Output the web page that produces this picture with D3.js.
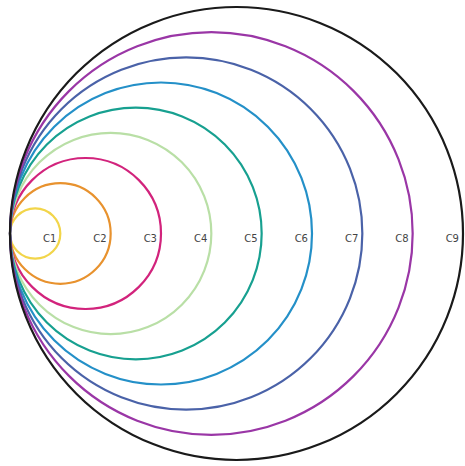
<!DOCTYPE html>
<html>
<head>
<meta charset="utf-8">
<script src="https://cdn.jsdelivr.net/npm/d3@7"></script>
<style>
html,body{margin:0;padding:0;background:#fff;}
svg{display:block;}
</style>
</head>
<body>
<svg id="chart" width="465" height="466"></svg>
<script>
const categories = ["C1","C2","C3","C4","C5","C6","C7","C8","C9"];
const diameters = [1,2,3,4,5,6,7,8,9];
const colors = ["#f2d54a","#e8922e","#d2237c","#b9dfa6","#17a090","#2490c8","#4a62a8","#9a36a6","#1a1a1a"];

const svg = d3.select("#chart");
const x = d3.scaleLinear().domain([0, 9]).range([10, 463]);
const cy = 233.5;

const g = svg.append("g");
categories.forEach((c, i) => {
  const d = diameters[i];
  const r = (x(d) - x(0)) / 2;
  g.append("circle")
    .attr("cx", x(0) + r)
    .attr("cy", cy)
    .attr("r", r)
    .attr("fill", "none")
    .attr("stroke", colors[i])
    .attr("stroke-width", 2.2);
});
categories.forEach((c, i) => {
  g.append("text")
    .attr("x", x(diameters[i]) - 4)
    .attr("y", cy + 8)
    .attr("text-anchor", "end")
    .attr("font-family", "DejaVu Sans, sans-serif")
    .attr("font-size", 10)
    .attr("fill", "#444")
    .text(c);
});
</script>
</body>
</html>
